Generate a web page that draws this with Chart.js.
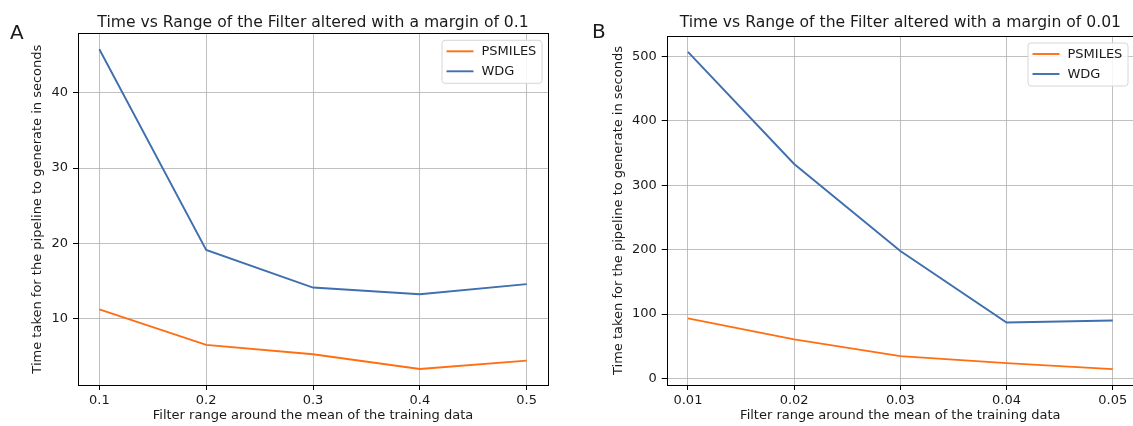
<!DOCTYPE html>
<html><head><meta charset="utf-8">
<script src="https://cdn.jsdelivr.net/npm/chart.js@4.4.0/dist/chart.umd.min.js"></script>
<style>
html,body{margin:0;padding:0;background:#fff;overflow:hidden;}
#wrap{position:relative;width:1133px;height:426px;overflow:hidden;background:#fff;}
canvas{position:absolute;top:0;}
.lab{position:absolute;font-family:'DejaVu Sans';font-size:20px;line-height:20px;color:#1a1a1a;}
</style></head><body>
<div id="wrap">
<canvas id="cA" width="566" height="426" style="left:0px"></canvas>
<canvas id="cB" width="568" height="426" style="left:566px"></canvas>
<div class="lab" style="left:10px;top:22px">A</div>
<div class="lab" style="left:592px;top:21px">B</div>
</div>
<script>
// ---- data ----
const seriesNames = ['PSMILES', 'WDG'];
const titleA = 'Time vs Range of the Filter altered with a margin of 0.1';
const titleB = 'Time vs Range of the Filter altered with a margin of 0.01';
const xTitle = 'Filter range around the mean of the training data';
const yTitle = 'Time taken for the pipeline to generate in seconds';

const xA = [0.1, 0.2, 0.3, 0.4, 0.5];
const psmilesA = [11.2, 6.47, 5.22, 3.26, 4.37];
const wdgA = [45.8, 19.1, 14.1, 13.2, 14.55];
const xTickLabelsA = ['0.1', '0.2', '0.3', '0.4', '0.5'];
const yTicksA = [10, 20, 30, 40];

const xB = [0.01, 0.02, 0.03, 0.04, 0.05];
const psmilesB = [93.3, 60.6, 34.7, 23.8, 14.5];
const wdgB = [507, 333, 198, 87, 90];
const xTickLabelsB = ['0.01', '0.02', '0.03', '0.04', '0.05'];
const yTicksB = [0, 100, 200, 300, 400, 500];

// ---- styles ----
const FONT = 'DejaVu Sans';
const TXT = '#1a1a1a';
const ORANGE = '#ff6f12';
const BLUE = '#3f6fae';
const FS = 13;

function padRange(vals) {
  const mn = Math.min(...vals), mx = Math.max(...vals);
  const m = (mx - mn) * 0.05;
  return [mn - m, mx + m];
}

const framePlugin = {
  id: 'frame',
  afterDraw(chart) {
    const a = chart.chartArea, ctx = chart.ctx;
    ctx.save();
    ctx.strokeStyle = '#000';
    ctx.lineWidth = 1;
    const l = Math.round(a.left), t = Math.round(a.top), r = Math.round(a.right), b = Math.round(a.bottom);
    ctx.strokeRect(l + 0.5, t + 0.5, r - l, b - t);
    // chart title centred over plot area
    const opts = chart.options.plugins.ctitle;
    ctx.font = '15.6px ' + FONT;
    ctx.fillStyle = TXT;
    ctx.textAlign = 'center';
    ctx.textBaseline = 'alphabetic';
    ctx.fillText(opts.text, (a.left + a.right) / 2, 26.5);
    ctx.restore();
  }
};

const boxLegendPlugin = {
  id: 'boxLegend',
  afterDraw(chart) {
    const a = chart.chartArea, ctx = chart.ctx;
    const w = 100, h = 43;
    const x = a.right - 6.5 - w, y = a.top + 6.5;
    ctx.save();
    ctx.beginPath();
    if (ctx.roundRect) ctx.roundRect(x + 0.5, y + 0.5, w, h, 3); else ctx.rect(x + 0.5, y + 0.5, w, h);
    ctx.fillStyle = 'rgba(255,255,255,0.85)';
    ctx.fill();
    ctx.strokeStyle = '#d6d6d6';
    ctx.lineWidth = 1;
    ctx.stroke();
    ctx.font = FS + 'px ' + FONT;
    ctx.textBaseline = 'middle';
    ctx.textAlign = 'left';
    ctx.fillStyle = TXT;
    chart.data.datasets.forEach((ds, i) => {
      const ly = y + 11.5 + i * 20;
      ctx.beginPath();
      ctx.strokeStyle = ds.borderColor;
      ctx.lineWidth = 1.9;
      ctx.moveTo(x + 5, ly);
      ctx.lineTo(x + 32, ly);
      ctx.stroke();
      ctx.fillText(ds.label, x + 40, ly + 0.5);
    });
    ctx.restore();
  }
};

function makeChart(id, cfg) {
  const xr = padRange(cfg.x);
  const yr = padRange(cfg.s1.concat(cfg.s2));
  const pts = arr => arr.map((v, i) => ({x: cfg.x[i], y: v}));
  const gridOpts = {color: '#b0b0b0', lineWidth: 0.8, drawTicks: true, tickLength: 5, tickColor: '#000', tickWidth: 1};
  return new Chart(document.getElementById(id), {
    type: 'line',
    data: {
      datasets: [
        {label: seriesNames[0], data: pts(cfg.s1), borderColor: ORANGE, borderWidth: 1.9, pointRadius: 0, tension: 0, fill: false},
        {label: seriesNames[1], data: pts(cfg.s2), borderColor: BLUE, borderWidth: 1.9, pointRadius: 0, tension: 0, fill: false}
      ]
    },
    options: {
      responsive: false,
      animation: false,
      devicePixelRatio: 1,
      layout: {padding: {left: 0, right: cfg.padRight, top: cfg.padTop, bottom: 0}},
      plugins: {
        legend: {display: false},
        tooltip: {enabled: false},
        title: {display: false},
        ctitle: {text: cfg.title}
      },
      scales: {
        x: {
          type: 'linear', min: xr[0], max: xr[1],
          afterBuildTicks: s => { s.ticks = cfg.x.map(v => ({value: v})); },
          afterFit: s => { s.height = 41; },
          ticks: {color: TXT, font: {family: FONT, size: FS}, padding: 3,
                  callback: (v, i) => cfg.xLabels[i], maxRotation: 0},
          grid: gridOpts,
          border: {display: false},
          title: {display: true, text: xTitle, color: TXT, font: {family: FONT, size: FS}, padding: {top: 0, bottom: 3}}
        },
        y: {
          type: 'linear', min: yr[0], max: yr[1],
          afterBuildTicks: s => { s.ticks = cfg.yTicks.map(v => ({value: v})); },
          afterFit: s => { s.width = cfg.yWidth; },
          ticks: {color: TXT, font: {family: FONT, size: FS}, padding: 5,
                  callback: v => String(v)},
          grid: gridOpts,
          border: {display: false},
          title: {display: true, text: yTitle, color: TXT, font: {family: FONT, size: FS}, padding: {top: cfg.yTitlePad, bottom: 0}}
        }
      }
    },
    plugins: [framePlugin, boxLegendPlugin]
  });
}

makeChart('cA', {x: xA, s1: psmilesA, s2: wdgA, xLabels: xTickLabelsA, yTicks: yTicksA,
  title: titleA, padTop: 33.3, yWidth: 78, yTitlePad: 30, padRight: 18});
makeChart('cB', {x: xB, s1: psmilesB, s2: wdgB, xLabels: xTickLabelsB, yTicks: yTicksB,
  title: titleB, padTop: 36, yWidth: 100.7, yTitlePad: 44.5, padRight: 0});
</script>
</body></html>
